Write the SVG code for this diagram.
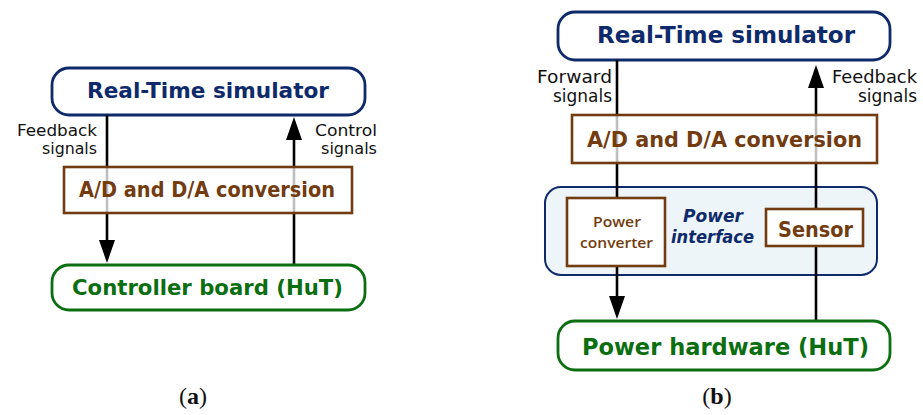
<svg xmlns="http://www.w3.org/2000/svg" width="923" height="415" viewBox="0 0 923 415">
<style>
.nav{fill:#fff;stroke:#0E2A6A;stroke-width:2.8}
.brn{stroke:#723C10;stroke-width:2.6}
.grn{fill:#fff;stroke:#0B6E10;stroke-width:2.8}
.pi{fill:#EEF5F9;stroke:#0E2A6A;stroke-width:2}
.t{font-family:"DejaVu Sans","Liberation Sans",sans-serif;font-weight:bold;text-anchor:middle}
.tn{fill:#0E2A6A}
.tb{fill:#723C10}
.tg{fill:#0B6E10}
.sm{font-family:"Open Sans","DejaVu Sans",sans-serif;font-weight:600;text-anchor:middle;fill:#723C10}
.lab{font-family:"DejaVu Sans","Liberation Sans",sans-serif;fill:#111;text-anchor:end}
.cap{font-family:"Liberation Serif",serif;font-size:24px;fill:#111;text-anchor:middle}
.ln{stroke:#000;stroke-width:2.6;fill:none;marker-end:url(#ah)}
</style>
<defs>
<marker id="ah" viewBox="0 0 23 16" refX="18" refY="8" markerWidth="23" markerHeight="16" markerUnits="userSpaceOnUse" orient="auto">
<path d="M0,0 L23,8 L0,16 Z" fill="#000"/>
</marker>
</defs>
<rect width="923" height="415" fill="#fff"/>

<g id="rt-a">
<rect class="nav" x="52" y="68" width="313" height="47" rx="17"/>
<text class="t tn" x="208" y="98" font-size="21.5" textLength="242" lengthAdjust="spacingAndGlyphs">Real-Time simulator</text>
</g>
<g id="rt-b">
<rect class="nav" x="558" y="12" width="332" height="48" rx="17"/>
<text class="t tn" x="726" y="43" font-size="22.5" textLength="258" lengthAdjust="spacingAndGlyphs">Real-Time simulator</text>
</g>
<g id="power-interface">
<rect class="pi" x="545" y="187" width="332" height="88" rx="16"/>
<text class="t tn" x="713" y="222" font-size="17" font-style="italic" textLength="60" lengthAdjust="spacingAndGlyphs">Power</text>
<text class="t tn" x="712.5" y="243" font-size="17" font-style="italic" textLength="83" lengthAdjust="spacingAndGlyphs">interface</text>
</g>

<g id="connectors">
<line class="ln" x1="107" y1="115" x2="107" y2="258"/>
<line class="ln" x1="294" y1="265" x2="294" y2="122"/>
<line class="ln" x1="617" y1="60" x2="617" y2="314"/>
<line class="ln" x1="816" y1="321" x2="816" y2="70"/>
</g>

<g id="labels">
<text class="lab" x="97" y="136" font-size="16" textLength="80" lengthAdjust="spacingAndGlyphs">Feedback</text>
<text class="lab" x="97" y="154" font-size="16" textLength="55" lengthAdjust="spacingAndGlyphs">signals</text>
<text class="lab" x="377" y="136" font-size="16" textLength="62" lengthAdjust="spacingAndGlyphs">Control</text>
<text class="lab" x="377" y="154" font-size="16" textLength="56" lengthAdjust="spacingAndGlyphs">signals</text>
<text class="lab" x="612" y="83" font-size="17" textLength="75" lengthAdjust="spacingAndGlyphs">Forward</text>
<text class="lab" x="612" y="102" font-size="17" textLength="59" lengthAdjust="spacingAndGlyphs">signals</text>
<text class="lab" x="917" y="83" font-size="17" textLength="85" lengthAdjust="spacingAndGlyphs">Feedback</text>
<text class="lab" x="917" y="102" font-size="17" textLength="59" lengthAdjust="spacingAndGlyphs">signals</text>
</g>

<g id="adc-a">
<rect class="brn" x="64" y="167" width="288" height="46" fill="#fff" fill-opacity="0.75"/>
<text class="t tb" x="207" y="197" font-size="20.5" textLength="256" lengthAdjust="spacingAndGlyphs">A/D and D/A conversion</text>
</g>
<g id="adc-b">
<rect class="brn" x="572" y="115" width="305" height="48" fill="#fff" fill-opacity="0.75"/>
<text class="t tb" x="724.5" y="147" font-size="21.5" textLength="275" lengthAdjust="spacingAndGlyphs">A/D and D/A conversion</text>
</g>
<g id="power-converter">
<rect class="brn" x="567" y="198" width="98" height="68" fill="#fff"/>
<text class="sm" x="617" y="227" font-size="15" textLength="48" lengthAdjust="spacingAndGlyphs">Power</text>
<text class="sm" x="616.5" y="248" font-size="15" textLength="73" lengthAdjust="spacingAndGlyphs">converter</text>
</g>
<g id="sensor">
<rect class="brn" x="766" y="209" width="97" height="37" fill="#fff"/>
<text class="t tb" x="815.5" y="237" font-size="20.5" textLength="75" lengthAdjust="spacingAndGlyphs">Sensor</text>
</g>
<g id="controller-board">
<rect class="grn" x="52" y="265" width="313" height="45" rx="17"/>
<text class="t tg" x="207.5" y="295" font-size="21.5" textLength="271" lengthAdjust="spacingAndGlyphs">Controller board (HuT)</text>
</g>
<g id="power-hardware">
<rect class="grn" x="558" y="321" width="332" height="49" rx="17"/>
<text class="t tg" x="725.5" y="355" font-size="22.5" textLength="287" lengthAdjust="spacingAndGlyphs">Power hardware (HuT)</text>
</g>

<text class="cap" x="193" y="404">(<tspan font-weight="bold">a</tspan>)</text>
<text class="cap" x="717" y="404">(<tspan font-weight="bold">b</tspan>)</text>
</svg>
